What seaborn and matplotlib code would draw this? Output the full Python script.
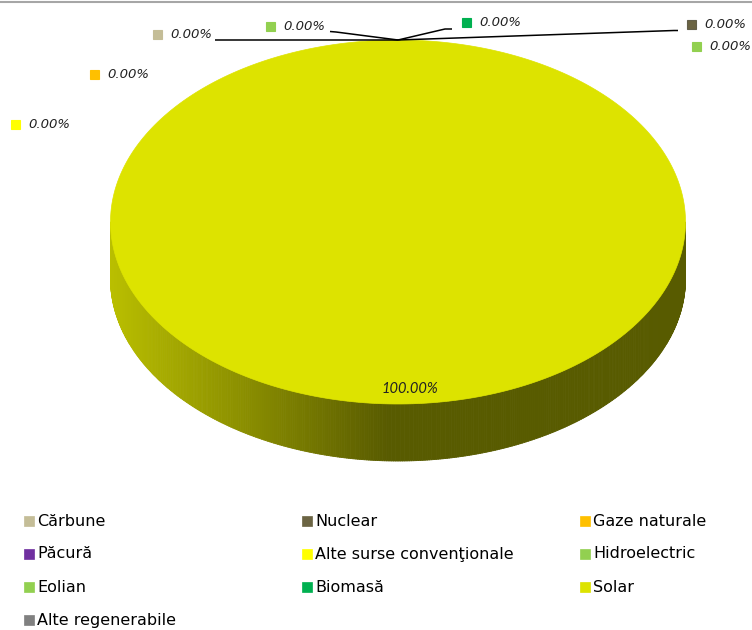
import numpy as np
import matplotlib
matplotlib.use("Agg")
import matplotlib.pyplot as plt
from matplotlib.patches import Polygon, Rectangle
from matplotlib.collections import PolyCollection
import seaborn as sns

# date - productia de energie pe surse (procente)
categorii = ['Cărbune', 'Nuclear', 'Gaze naturale', 'Păcură',
             'Alte surse convenţionale', 'Hidroelectric', 'Eolian',
             'Biomasă', 'Solar', 'Alte regenerabile']
valori = [0.0, 0.0, 0.0, None, 0.0, 0.0, 0.0, 0.0, 100.0, None]
culori = ['#c4bd97', '#6b6443', '#ffc000', '#7030a0', '#ffff00',
          '#92d050', '#92d050', '#00b050', '#dde300', '#808080']

# pozitiile etichetelor (pixeli) - None = fara eticheta
poz_etichete = [(157, 34), (691, 24), (94, 74), None, (15, 124),
                (696, 46), (270, 26), (466, 22), None, None]
# linii de legatura catre eticheta
linii = {'Cărbune': [(215, 40)],
         'Eolian': [(330, 31.5), (336, 32)],
         'Biomasă': [(452, 29), (445, 29)],
         'Nuclear': [(678, 30.5), (674, 30.5)]}

sns.set_theme(style="white")
plt.rcParams['font.family'] = ['DejaVu Sans']

fig = plt.figure(figsize=(7.52, 6.30), dpi=100)
ax = fig.add_axes([0, 0, 1, 1])
ax.set_xlim(0, 752)
ax.set_ylim(630, 0)
ax.axis('off')

# geometria placintei 3D
cx, cy, rx, ry, adancime = 398, 222, 287.5, 182, 57

vals = np.array([v if v is not None else 0.0 for v in valori])
frac = vals / vals.sum()
start = np.concatenate([[0], np.cumsum(frac)[:-1]])
stop = start + frac


def punct(f):
    t = np.deg2rad(90 - 360 * f)
    return cx + rx * np.cos(t), cy - ry * np.sin(t)


def umbra(x):
    # factor de intunecare al peretelui lateral
    p = np.clip((x - (cx - rx)) / (387 - (cx - rx)), 0, 1)
    return 0.84 - 0.44 * p


# peretele lateral (doar partea din fata)
poligoane, cul_lat = [], []
n = 400
for k in range(n):
    f0 = 0.25 + 0.5 * k / n
    f1 = 0.25 + 0.5 * (k + 1) / n
    idx = np.searchsorted(stop, (f0 + f1) / 2, side='right')
    idx = min(idx, len(vals) - 1)
    x0, y0 = punct(f1 if True else f0)
    x1, y1 = punct(f0)
    poligoane.append([(x0, y0), (x1, y1), (x1, y1 + adancime), (x0, y0 + adancime)])
    base = np.array(matplotlib.colors.to_rgb(culori[idx]))
    cul_lat.append(tuple(base * umbra((x0 + x1) / 2)))
ax.add_collection(PolyCollection(poligoane, facecolors=cul_lat,
                                 edgecolors=cul_lat, linewidths=0.6))

# fata de sus
for i, v in enumerate(vals):
    if frac[i] <= 0:
        continue
    fs = np.linspace(start[i], stop[i], 300)
    pts = [punct(f) for f in fs]
    if frac[i] < 1:
        pts = [(cx, cy)] + pts
    ax.add_patch(Polygon(pts, closed=True, facecolor=culori[i],
                         edgecolor=culori[i], lw=0.5))

# linii de legatura
vx, vy = punct(0)
for nume, pts in linii.items():
    xs = [p[0] for p in pts] + [vx]
    ys = [p[1] for p in pts] + [vy]
    ax.plot(xs, ys, color='black', lw=1.1, solid_capstyle='butt')

# etichete de date
for i, poz in enumerate(poz_etichete):
    if poz is None or valori[i] is None:
        continue
    x, y = poz
    ax.add_patch(Rectangle((x - 4.5, y - 4.5), 9, 9, facecolor=culori[i],
                           edgecolor=sns.desaturate(culori[i], 0.6) if i == 1 else culori[i],
                           lw=0.8))
    ax.text(x + 13, y + 0.5, f"{frac[i] * 100:.2f}%", fontsize=9.5,
            style='italic', color='#222222', va='center', ha='left')

# eticheta pentru felia mare
i_max = int(np.argmax(vals))
ax.text(410, 389, f"{frac[i_max] * 100:.2f}%", fontsize=10.5, style='italic',
        color='#222222', va='center', ha='center', family=['Lato', 'DejaVu Sans'])

# legenda pe 3 coloane
for i, nume in enumerate(categorii):
    r, c = divmod(i, 3)
    x = 29 + c * 278
    y = 521 + r * 33
    ax.add_patch(Rectangle((x - 5, y - 5), 10, 10, facecolor=culori[i],
                           edgecolor=culori[i], lw=0.5))
    ax.text(x + 8, y, nume, fontsize=11.5, color='black', va='center', ha='left')

# chenarul de sus
ax.plot([0, 752], [1.5, 1.5], color='#a6a6a6', lw=1.5)

fig.savefig('out.png', dpi=100)
